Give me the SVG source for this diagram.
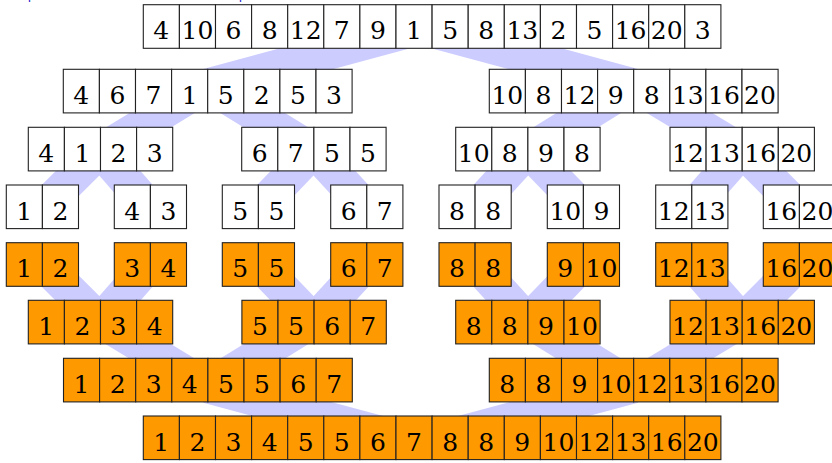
<svg xmlns="http://www.w3.org/2000/svg" width="832" height="463" viewBox="0 0 832 463">
<style>
.c{fill:#ffffff;stroke:#222222;stroke-width:1.1}
.o{fill:#ff9900;stroke:#222222;stroke-width:1.1}
.t{font-family:"DejaVu Serif","Liberation Serif",serif;font-size:25px;text-anchor:middle;fill:#000000}
.b{stroke:#ccccff;stroke-width:34;stroke-linecap:butt;fill:none}
.cap{font-family:"Liberation Sans",sans-serif;font-size:13px;fill:#2222cc}
</style>
<rect width="832" height="463" fill="#ffffff"/>
<text class="cap" x="28" y="-1">p</text>
<text class="cap" x="239" y="-1">p</text>
<g id="connectors">
<line class="b" x1="420.7" y1="27.8" x2="207.7" y2="85.3"/>
<line class="b" x1="420.7" y1="27.8" x2="633.6" y2="85.3"/>
<line class="b" x1="207.7" y1="85.3" x2="100.2" y2="150.7"/>
<line class="b" x1="207.7" y1="85.3" x2="313.8" y2="150.7"/>
<line class="b" x1="633.6" y1="85.3" x2="527.8" y2="150.7"/>
<line class="b" x1="633.6" y1="85.3" x2="742.2" y2="150.7"/>
<line class="b" x1="100.2" y1="150.7" x2="42.4" y2="208.2"/>
<line class="b" x1="100.2" y1="150.7" x2="150.4" y2="208.2"/>
<line class="b" x1="313.8" y1="150.7" x2="258.5" y2="208.2"/>
<line class="b" x1="313.8" y1="150.7" x2="366.8" y2="208.2"/>
<line class="b" x1="527.8" y1="150.7" x2="475.2" y2="208.2"/>
<line class="b" x1="527.8" y1="150.7" x2="583.5" y2="208.2"/>
<line class="b" x1="742.2" y1="150.7" x2="691.7" y2="208.2"/>
<line class="b" x1="742.2" y1="150.7" x2="799.5" y2="208.2"/>
<line class="b" x1="42.4" y1="263.4" x2="100.2" y2="320.9"/>
<line class="b" x1="150.4" y1="263.4" x2="100.2" y2="320.9"/>
<line class="b" x1="258.5" y1="263.4" x2="313.8" y2="320.9"/>
<line class="b" x1="366.8" y1="263.4" x2="313.8" y2="320.9"/>
<line class="b" x1="475.2" y1="263.4" x2="527.8" y2="320.9"/>
<line class="b" x1="583.5" y1="263.4" x2="527.8" y2="320.9"/>
<line class="b" x1="691.7" y1="263.4" x2="742.2" y2="320.9"/>
<line class="b" x1="799.5" y1="263.4" x2="742.2" y2="320.9"/>
<line class="b" x1="100.2" y1="320.9" x2="207.7" y2="386.3"/>
<line class="b" x1="313.8" y1="320.9" x2="207.7" y2="386.3"/>
<line class="b" x1="527.8" y1="320.9" x2="633.6" y2="386.3"/>
<line class="b" x1="742.2" y1="320.9" x2="633.6" y2="386.3"/>
<line class="b" x1="207.7" y1="386.3" x2="420.7" y2="443.7"/>
<line class="b" x1="633.6" y1="386.3" x2="420.7" y2="443.7"/>
</g>
<g id="n0" transform="translate(143.3,4.7)">
<rect class="c" x="0" y="0" width="36.1" height="43.6"/><rect class="c" x="36.1" y="0" width="36.1" height="43.6"/><rect class="c" x="72.2" y="0" width="36.1" height="43.6"/><rect class="c" x="108.3" y="0" width="36.1" height="43.6"/><rect class="c" x="144.4" y="0" width="36.1" height="43.6"/><rect class="c" x="180.5" y="0" width="36.1" height="43.6"/><rect class="c" x="216.6" y="0" width="36.1" height="43.6"/><rect class="c" x="252.7" y="0" width="36.1" height="43.6"/><rect class="c" x="288.8" y="0" width="36.1" height="43.6"/><rect class="c" x="324.9" y="0" width="36.1" height="43.6"/><rect class="c" x="361" y="0" width="36.1" height="43.6"/><rect class="c" x="397.1" y="0" width="36.1" height="43.6"/><rect class="c" x="433.2" y="0" width="36.1" height="43.6"/><rect class="c" x="469.3" y="0" width="36.1" height="43.6"/><rect class="c" x="505.4" y="0" width="36.1" height="43.6"/><rect class="c" x="541.5" y="0" width="36.1" height="43.6"/>
<text class="t" x="18" y="34.6">4</text><text class="t" x="54.1" y="34.6">10</text><text class="t" x="90.2" y="34.6">6</text><text class="t" x="126.3" y="34.6">8</text><text class="t" x="162.4" y="34.6">12</text><text class="t" x="198.5" y="34.6">7</text><text class="t" x="234.6" y="34.6">9</text><text class="t" x="270.7" y="34.6">1</text><text class="t" x="306.8" y="34.6">5</text><text class="t" x="342.9" y="34.6">8</text><text class="t" x="379" y="34.6">13</text><text class="t" x="415.1" y="34.6">2</text><text class="t" x="451.2" y="34.6">5</text><text class="t" x="487.3" y="34.6">16</text><text class="t" x="523.4" y="34.6">20</text><text class="t" x="559.5" y="34.6">3</text>
</g>
<g id="n1a" transform="translate(63.3,69.3)">
<rect class="c" x="0" y="0" width="36.1" height="43.6"/><rect class="c" x="36.1" y="0" width="36.1" height="43.6"/><rect class="c" x="72.2" y="0" width="36.1" height="43.6"/><rect class="c" x="108.3" y="0" width="36.1" height="43.6"/><rect class="c" x="144.4" y="0" width="36.1" height="43.6"/><rect class="c" x="180.5" y="0" width="36.1" height="43.6"/><rect class="c" x="216.6" y="0" width="36.1" height="43.6"/><rect class="c" x="252.7" y="0" width="36.1" height="43.6"/>
<text class="t" x="18" y="34.6">4</text><text class="t" x="54.1" y="34.6">6</text><text class="t" x="90.2" y="34.6">7</text><text class="t" x="126.3" y="34.6">1</text><text class="t" x="162.4" y="34.6">5</text><text class="t" x="198.5" y="34.6">2</text><text class="t" x="234.6" y="34.6">5</text><text class="t" x="270.7" y="34.6">3</text>
</g>
<g id="n1b" transform="translate(489.3,69.3)">
<rect class="c" x="0" y="0" width="36.1" height="43.6"/><rect class="c" x="36.1" y="0" width="36.1" height="43.6"/><rect class="c" x="72.2" y="0" width="36.1" height="43.6"/><rect class="c" x="108.3" y="0" width="36.1" height="43.6"/><rect class="c" x="144.4" y="0" width="36.1" height="43.6"/><rect class="c" x="180.5" y="0" width="36.1" height="43.6"/><rect class="c" x="216.6" y="0" width="36.1" height="43.6"/><rect class="c" x="252.7" y="0" width="36.1" height="43.6"/>
<text class="t" x="18" y="34.6">10</text><text class="t" x="54.1" y="34.6">8</text><text class="t" x="90.2" y="34.6">12</text><text class="t" x="126.3" y="34.6">9</text><text class="t" x="162.4" y="34.6">8</text><text class="t" x="198.5" y="34.6">13</text><text class="t" x="234.6" y="34.6">16</text><text class="t" x="270.7" y="34.6">20</text>
</g>
<g id="n2a" transform="translate(28.3,127.3)">
<rect class="c" x="0" y="0" width="36.1" height="43.6"/><rect class="c" x="36.1" y="0" width="36.1" height="43.6"/><rect class="c" x="72.2" y="0" width="36.1" height="43.6"/><rect class="c" x="108.3" y="0" width="36.1" height="43.6"/>
<text class="t" x="18" y="34.6">4</text><text class="t" x="54.1" y="34.6">1</text><text class="t" x="90.2" y="34.6">2</text><text class="t" x="126.3" y="34.6">3</text>
</g>
<g id="n2b" transform="translate(241.7,127.3)">
<rect class="c" x="0" y="0" width="36.1" height="43.6"/><rect class="c" x="36.1" y="0" width="36.1" height="43.6"/><rect class="c" x="72.2" y="0" width="36.1" height="43.6"/><rect class="c" x="108.3" y="0" width="36.1" height="43.6"/>
<text class="t" x="18" y="34.6">6</text><text class="t" x="54.1" y="34.6">7</text><text class="t" x="90.2" y="34.6">5</text><text class="t" x="126.3" y="34.6">5</text>
</g>
<g id="n2c" transform="translate(455.7,127.3)">
<rect class="c" x="0" y="0" width="36.1" height="43.6"/><rect class="c" x="36.1" y="0" width="36.1" height="43.6"/><rect class="c" x="72.2" y="0" width="36.1" height="43.6"/><rect class="c" x="108.3" y="0" width="36.1" height="43.6"/>
<text class="t" x="18" y="34.6">10</text><text class="t" x="54.1" y="34.6">8</text><text class="t" x="90.2" y="34.6">9</text><text class="t" x="126.3" y="34.6">8</text>
</g>
<g id="n2d" transform="translate(670,127.3)">
<rect class="c" x="0" y="0" width="36.1" height="43.6"/><rect class="c" x="36.1" y="0" width="36.1" height="43.6"/><rect class="c" x="72.2" y="0" width="36.1" height="43.6"/><rect class="c" x="108.3" y="0" width="36.1" height="43.6"/>
<text class="t" x="18" y="34.6">12</text><text class="t" x="54.1" y="34.6">13</text><text class="t" x="90.2" y="34.6">16</text><text class="t" x="126.3" y="34.6">20</text>
</g>
<g id="n3a" transform="translate(6.3,185)"><rect class="c" x="0" y="0" width="36.1" height="43.6"/><rect class="c" x="36.1" y="0" width="36.1" height="43.6"/><text class="t" x="18" y="34.6">1</text><text class="t" x="54.1" y="34.6">2</text></g>
<g id="n3b" transform="translate(114.3,185)"><rect class="c" x="0" y="0" width="36.1" height="43.6"/><rect class="c" x="36.1" y="0" width="36.1" height="43.6"/><text class="t" x="18" y="34.6">4</text><text class="t" x="54.1" y="34.6">3</text></g>
<g id="n3c" transform="translate(222.3,185)"><rect class="c" x="0" y="0" width="36.1" height="43.6"/><rect class="c" x="36.1" y="0" width="36.1" height="43.6"/><text class="t" x="18" y="34.6">5</text><text class="t" x="54.1" y="34.6">5</text></g>
<g id="n3d" transform="translate(330.7,185)"><rect class="c" x="0" y="0" width="36.1" height="43.6"/><rect class="c" x="36.1" y="0" width="36.1" height="43.6"/><text class="t" x="18" y="34.6">6</text><text class="t" x="54.1" y="34.6">7</text></g>
<g id="n3e" transform="translate(439,185)"><rect class="c" x="0" y="0" width="36.1" height="43.6"/><rect class="c" x="36.1" y="0" width="36.1" height="43.6"/><text class="t" x="18" y="34.6">8</text><text class="t" x="54.1" y="34.6">8</text></g>
<g id="n3f" transform="translate(547.3,185)"><rect class="c" x="0" y="0" width="36.1" height="43.6"/><rect class="c" x="36.1" y="0" width="36.1" height="43.6"/><text class="t" x="18" y="34.6">10</text><text class="t" x="54.1" y="34.6">9</text></g>
<g id="n3g" transform="translate(655.7,185)"><rect class="c" x="0" y="0" width="36.1" height="43.6"/><rect class="c" x="36.1" y="0" width="36.1" height="43.6"/><text class="t" x="18" y="34.6">12</text><text class="t" x="54.1" y="34.6">13</text></g>
<g id="n3h" transform="translate(763.3,185)"><rect class="c" x="0" y="0" width="36.1" height="43.6"/><rect class="c" x="36.1" y="0" width="36.1" height="43.6"/><text class="t" x="18" y="34.6">16</text><text class="t" x="54.1" y="34.6">20</text></g>
<g id="n4a" transform="translate(6.3,242.7)"><rect class="o" x="0" y="0" width="36.1" height="43.6"/><rect class="o" x="36.1" y="0" width="36.1" height="43.6"/><text class="t" x="18" y="34.6">1</text><text class="t" x="54.1" y="34.6">2</text></g>
<g id="n4b" transform="translate(114.3,242.7)"><rect class="o" x="0" y="0" width="36.1" height="43.6"/><rect class="o" x="36.1" y="0" width="36.1" height="43.6"/><text class="t" x="18" y="34.6">3</text><text class="t" x="54.1" y="34.6">4</text></g>
<g id="n4c" transform="translate(222.3,242.7)"><rect class="o" x="0" y="0" width="36.1" height="43.6"/><rect class="o" x="36.1" y="0" width="36.1" height="43.6"/><text class="t" x="18" y="34.6">5</text><text class="t" x="54.1" y="34.6">5</text></g>
<g id="n4d" transform="translate(330.7,242.7)"><rect class="o" x="0" y="0" width="36.1" height="43.6"/><rect class="o" x="36.1" y="0" width="36.1" height="43.6"/><text class="t" x="18" y="34.6">6</text><text class="t" x="54.1" y="34.6">7</text></g>
<g id="n4e" transform="translate(439,242.7)"><rect class="o" x="0" y="0" width="36.1" height="43.6"/><rect class="o" x="36.1" y="0" width="36.1" height="43.6"/><text class="t" x="18" y="34.6">8</text><text class="t" x="54.1" y="34.6">8</text></g>
<g id="n4f" transform="translate(547.3,242.7)"><rect class="o" x="0" y="0" width="36.1" height="43.6"/><rect class="o" x="36.1" y="0" width="36.1" height="43.6"/><text class="t" x="18" y="34.6">9</text><text class="t" x="54.1" y="34.6">10</text></g>
<g id="n4g" transform="translate(655.7,242.7)"><rect class="o" x="0" y="0" width="36.1" height="43.6"/><rect class="o" x="36.1" y="0" width="36.1" height="43.6"/><text class="t" x="18" y="34.6">12</text><text class="t" x="54.1" y="34.6">13</text></g>
<g id="n4h" transform="translate(763.3,242.7)"><rect class="o" x="0" y="0" width="36.1" height="43.6"/><rect class="o" x="36.1" y="0" width="36.1" height="43.6"/><text class="t" x="18" y="34.6">16</text><text class="t" x="54.1" y="34.6">20</text></g>
<g id="n5a" transform="translate(28.3,300.3)">
<rect class="o" x="0" y="0" width="36.1" height="43.6"/><rect class="o" x="36.1" y="0" width="36.1" height="43.6"/><rect class="o" x="72.2" y="0" width="36.1" height="43.6"/><rect class="o" x="108.3" y="0" width="36.1" height="43.6"/>
<text class="t" x="18" y="34.6">1</text><text class="t" x="54.1" y="34.6">2</text><text class="t" x="90.2" y="34.6">3</text><text class="t" x="126.3" y="34.6">4</text>
</g>
<g id="n5b" transform="translate(241.9,300.3)">
<rect class="o" x="0" y="0" width="36.1" height="43.6"/><rect class="o" x="36.1" y="0" width="36.1" height="43.6"/><rect class="o" x="72.2" y="0" width="36.1" height="43.6"/><rect class="o" x="108.3" y="0" width="36.1" height="43.6"/>
<text class="t" x="18" y="34.6">5</text><text class="t" x="54.1" y="34.6">5</text><text class="t" x="90.2" y="34.6">6</text><text class="t" x="126.3" y="34.6">7</text>
</g>
<g id="n5c" transform="translate(455.7,300.3)">
<rect class="o" x="0" y="0" width="36.1" height="43.6"/><rect class="o" x="36.1" y="0" width="36.1" height="43.6"/><rect class="o" x="72.2" y="0" width="36.1" height="43.6"/><rect class="o" x="108.3" y="0" width="36.1" height="43.6"/>
<text class="t" x="18" y="34.6">8</text><text class="t" x="54.1" y="34.6">8</text><text class="t" x="90.2" y="34.6">9</text><text class="t" x="126.3" y="34.6">10</text>
</g>
<g id="n5d" transform="translate(670,300.3)">
<rect class="o" x="0" y="0" width="36.1" height="43.6"/><rect class="o" x="36.1" y="0" width="36.1" height="43.6"/><rect class="o" x="72.2" y="0" width="36.1" height="43.6"/><rect class="o" x="108.3" y="0" width="36.1" height="43.6"/>
<text class="t" x="18" y="34.6">12</text><text class="t" x="54.1" y="34.6">13</text><text class="t" x="90.2" y="34.6">16</text><text class="t" x="126.3" y="34.6">20</text>
</g>
<g id="n6a" transform="translate(63.5,358.3)">
<rect class="o" x="0" y="0" width="36.1" height="43.6"/><rect class="o" x="36.1" y="0" width="36.1" height="43.6"/><rect class="o" x="72.2" y="0" width="36.1" height="43.6"/><rect class="o" x="108.3" y="0" width="36.1" height="43.6"/><rect class="o" x="144.4" y="0" width="36.1" height="43.6"/><rect class="o" x="180.5" y="0" width="36.1" height="43.6"/><rect class="o" x="216.6" y="0" width="36.1" height="43.6"/><rect class="o" x="252.7" y="0" width="36.1" height="43.6"/>
<text class="t" x="18" y="34.6">1</text><text class="t" x="54.1" y="34.6">2</text><text class="t" x="90.2" y="34.6">3</text><text class="t" x="126.3" y="34.6">4</text><text class="t" x="162.4" y="34.6">5</text><text class="t" x="198.5" y="34.6">5</text><text class="t" x="234.6" y="34.6">6</text><text class="t" x="270.7" y="34.6">7</text>
</g>
<g id="n6b" transform="translate(489.3,358.3)">
<rect class="o" x="0" y="0" width="36.1" height="43.6"/><rect class="o" x="36.1" y="0" width="36.1" height="43.6"/><rect class="o" x="72.2" y="0" width="36.1" height="43.6"/><rect class="o" x="108.3" y="0" width="36.1" height="43.6"/><rect class="o" x="144.4" y="0" width="36.1" height="43.6"/><rect class="o" x="180.5" y="0" width="36.1" height="43.6"/><rect class="o" x="216.6" y="0" width="36.1" height="43.6"/><rect class="o" x="252.7" y="0" width="36.1" height="43.6"/>
<text class="t" x="18" y="34.6">8</text><text class="t" x="54.1" y="34.6">8</text><text class="t" x="90.2" y="34.6">9</text><text class="t" x="126.3" y="34.6">10</text><text class="t" x="162.4" y="34.6">12</text><text class="t" x="198.5" y="34.6">13</text><text class="t" x="234.6" y="34.6">16</text><text class="t" x="270.7" y="34.6">20</text>
</g>
<g id="n7" transform="translate(143.3,416)">
<rect class="o" x="0" y="0" width="36.1" height="43.6"/><rect class="o" x="36.1" y="0" width="36.1" height="43.6"/><rect class="o" x="72.2" y="0" width="36.1" height="43.6"/><rect class="o" x="108.3" y="0" width="36.1" height="43.6"/><rect class="o" x="144.4" y="0" width="36.1" height="43.6"/><rect class="o" x="180.5" y="0" width="36.1" height="43.6"/><rect class="o" x="216.6" y="0" width="36.1" height="43.6"/><rect class="o" x="252.7" y="0" width="36.1" height="43.6"/><rect class="o" x="288.8" y="0" width="36.1" height="43.6"/><rect class="o" x="324.9" y="0" width="36.1" height="43.6"/><rect class="o" x="361" y="0" width="36.1" height="43.6"/><rect class="o" x="397.1" y="0" width="36.1" height="43.6"/><rect class="o" x="433.2" y="0" width="36.1" height="43.6"/><rect class="o" x="469.3" y="0" width="36.1" height="43.6"/><rect class="o" x="505.4" y="0" width="36.1" height="43.6"/><rect class="o" x="541.5" y="0" width="36.1" height="43.6"/>
<text class="t" x="18" y="34.6">1</text><text class="t" x="54.1" y="34.6">2</text><text class="t" x="90.2" y="34.6">3</text><text class="t" x="126.3" y="34.6">4</text><text class="t" x="162.4" y="34.6">5</text><text class="t" x="198.5" y="34.6">5</text><text class="t" x="234.6" y="34.6">6</text><text class="t" x="270.7" y="34.6">7</text><text class="t" x="306.8" y="34.6">8</text><text class="t" x="342.9" y="34.6">8</text><text class="t" x="379" y="34.6">9</text><text class="t" x="415.1" y="34.6">10</text><text class="t" x="451.2" y="34.6">12</text><text class="t" x="487.3" y="34.6">13</text><text class="t" x="523.4" y="34.6">16</text><text class="t" x="559.5" y="34.6">20</text>
</g>
</svg>
